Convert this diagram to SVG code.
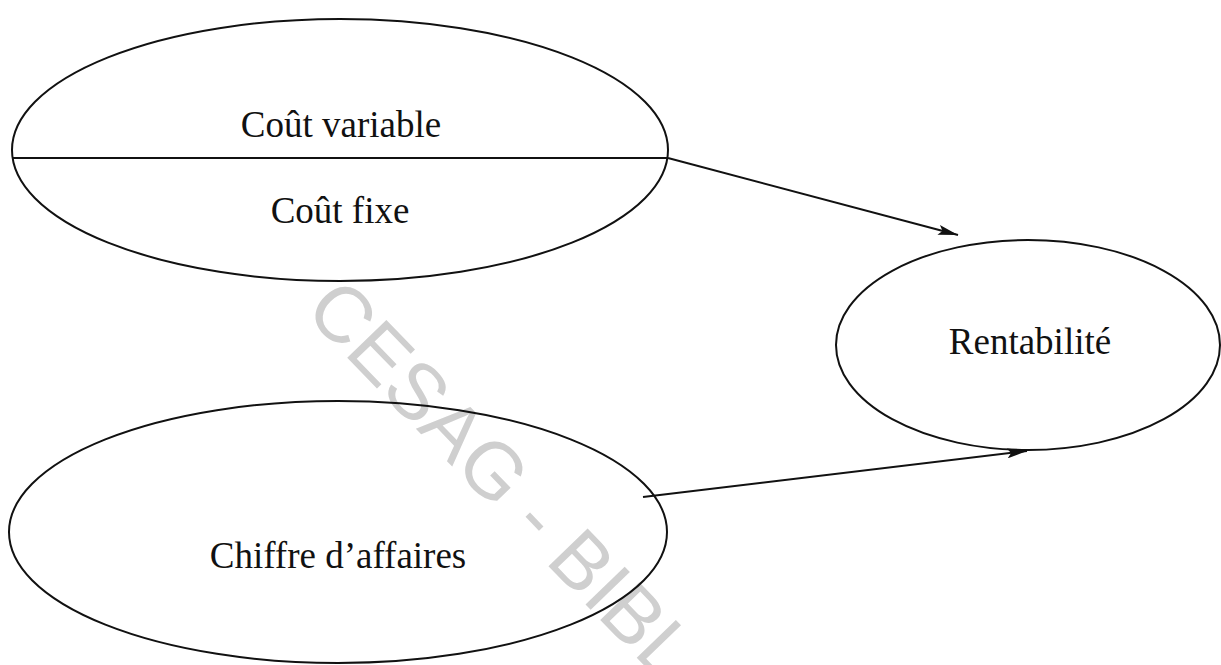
<svg xmlns="http://www.w3.org/2000/svg" width="1221" height="665" viewBox="0 0 1221 665">
  <defs>
    <marker id="arrow" viewBox="0 0 20 10" refX="20" refY="5" markerWidth="20" markerHeight="10" markerUnits="userSpaceOnUse" orient="auto">
      <path d="M0,0 L20,5 L0,10 L4,5 Z" fill="#111"/>
    </marker>
  </defs>
  <style>
    .shape { fill: none; stroke: #111; stroke-width: 2; }
    .label { font-family: "Liberation Serif", "Times New Roman", serif; font-size: 37px; fill: #111; text-anchor: middle; }
    .edge { fill: none; stroke: #111; stroke-width: 2; marker-end: url(#arrow); }
    .wm { font-family: "Liberation Sans", Arial, sans-serif; font-size: 79px; fill: #cfcfcf; }
  </style>
  <rect width="1221" height="665" fill="#ffffff"/>
  <text class="wm" transform="translate(303,312) rotate(46)">CESAG - BIBL</text>
  <g id="cout">
    <ellipse class="shape" cx="340" cy="150" rx="328" ry="131"/>
    <line class="shape" x1="12" y1="158" x2="668" y2="158"/>
    <text class="label" x="341" y="137">Coût variable</text>
    <text class="label" x="340" y="223">Coût fixe</text>
  </g>
  <g id="rentabilite">
    <ellipse class="shape" cx="1028" cy="345" rx="192" ry="105"/>
    <text class="label" x="1030" y="354">Rentabilité</text>
  </g>
  <g id="chiffre">
    <ellipse class="shape" cx="338" cy="532" rx="329" ry="131"/>
    <text class="label" x="338" y="568">Chiffre d’affaires</text>
  </g>
  <g id="connectors">
    <line class="edge" x1="668" y1="158" x2="958" y2="235"/>
    <line class="edge" x1="643" y1="497" x2="1027" y2="451"/>
  </g>
</svg>
